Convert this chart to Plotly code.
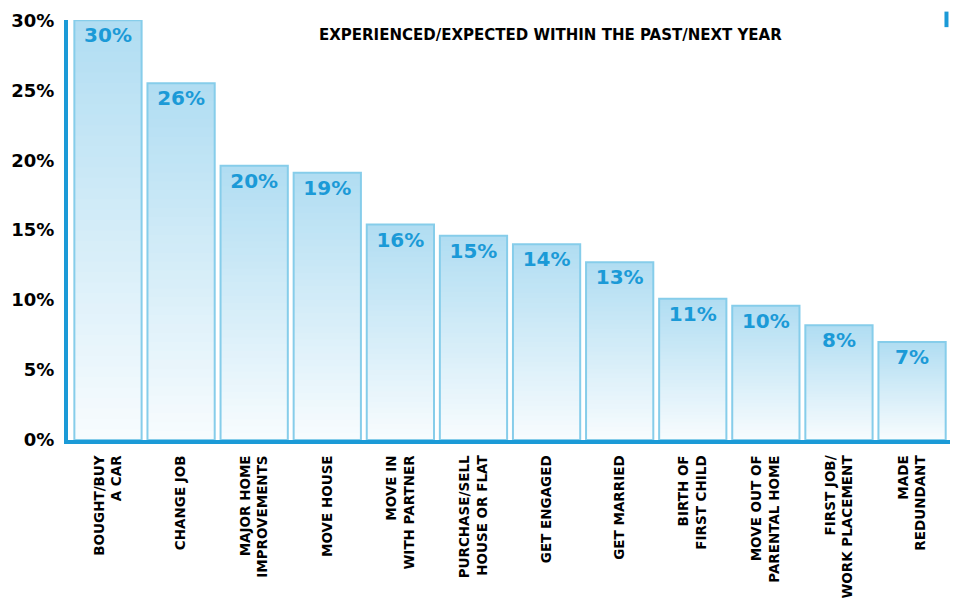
import plotly.graph_objects as go

categories = [
    "BOUGHT/BUY<br>A CAR", "CHANGE JOB", "MAJOR HOME<br>IMPROVEMENTS", "MOVE HOUSE",
    "MOVE IN<br>WITH PARTNER", "PURCHASE/SELL<br>HOUSE OR FLAT", "GET ENGAGED",
    "GET MARRIED", "BIRTH OF<br>FIRST CHILD", "MOVE OUT OF<br>PARENTAL HOME",
    "FIRST JOB/<br>WORK PLACEMENT", "MADE<br>REDUNDANT",
]
values = [30.0, 25.5, 19.6, 19.1, 15.4, 14.6, 14.0, 12.7, 10.1, 9.6, 8.2, 7.0]
value_labels = ["30%", "26%", "20%", "19%", "16%", "15%", "14%", "13%", "11%", "10%", "8%", "7%"]
y_ticks = [0, 5, 10, 15, 20, 25, 30]
y_tick_labels = ["0%", "5%", "10%", "15%", "20%", "25%", "30%"]

BLUE = "#1b9ad7"
top_rgb = (176, 221, 242)
bot_rgb = (248, 252, 254)
N = 40
x = list(range(len(categories)))

fig = go.Figure()
for k in range(N):
    t = (k + 0.5) / N  # 0 bottom -> 1 top
    c = tuple(int(round(bot_rgb[i] + (top_rgb[i] - bot_rgb[i]) * t)) for i in range(3))
    fig.add_trace(go.Bar(
        x=x, y=[v * (1 - k / N) for v in values], base=[v * k / N for v in values],
        marker=dict(color="rgb(%d,%d,%d)" % c, line=dict(width=0)),
        width=0.92, hoverinfo="skip", showlegend=False,
    ))

fig.add_trace(go.Bar(
    x=x, y=values, width=0.92,
    marker=dict(color="rgba(0,0,0,0)", line=dict(color="#86cdea", width=2)),
    text=value_labels, textposition="inside", insidetextanchor="end",
    textfont=dict(family="DejaVu Sans", size=20, color=BLUE, weight="bold"),
    showlegend=False, cliponaxis=False,
))

fig.update_layout(
    barmode="overlay",
    width=942, height=598,
    margin=dict(l=60, r=0, t=12, b=166, autoexpand=False),
    paper_bgcolor="white", plot_bgcolor="white",
    uniformtext=dict(minsize=20, mode="show"),
    xaxis=dict(
        tickmode="array", tickvals=x, ticktext=categories,
        tickangle=-90, range=[-0.547, 11.519],
        showline=True, linecolor=BLUE, linewidth=4,
        ticks="", showgrid=False, zeroline=False,
        tickfont=dict(family="DejaVu Sans", size=13.5, color="black", weight="bold"),
        ticklabelstandoff=6,
    ),
    yaxis=dict(
        tickmode="array", tickvals=y_ticks, ticktext=y_tick_labels,
        range=[0, 30.02], showline=True, linecolor=BLUE, linewidth=4,
        ticks="", showgrid=False, zeroline=False,
        tickfont=dict(family="DejaVu Sans", size=18, color="black", weight="bold"),
        ticklabelstandoff=6, ticklabeloverflow="allow",
    ),
    annotations=[dict(
        text="EXPERIENCED/EXPECTED WITHIN THE PAST/NEXT YEAR",
        xref="paper", yref="paper", x=0.547, y=0.965, xanchor="center", yanchor="middle",
        showarrow=False,
        font=dict(family="DejaVu Sans", size=15, color="black", weight="bold"),
    )],
    shapes=[dict(type="line", xref="paper", yref="paper", x0=0.996, x1=0.996,
                 y0=1.02, y1=0.983, line=dict(color=BLUE, width=4))],
)

fig.write_html("out.html")
